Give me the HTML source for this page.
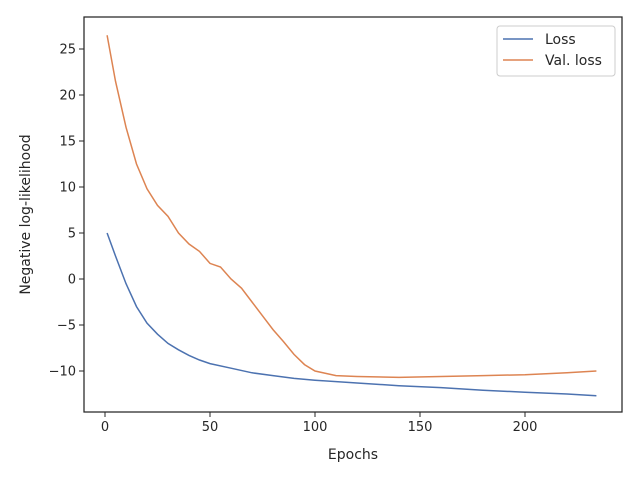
<!DOCTYPE html>
<html><head><meta charset="utf-8"><style>body{margin:0;background:#fff}svg{font-family:"DejaVu Sans","Liberation Sans",sans-serif}</style></head>
<body>
<svg id="chart" width="640" height="480"></svg>
<script>
const lossEpochs=[1,5,10,15,20,25,30,35,40,45,50,60,70,80,90,100,120,140,160,180,200,220,234];
const lossValues=[5,2.5,-0.5,-3,-4.8,-6,-7,-7.7,-8.3,-8.8,-9.2,-9.7,-10.2,-10.5,-10.8,-11,-11.3,-11.6,-11.8,-12.1,-12.3,-12.5,-12.7];
const valEpochs=[1,5,10,15,20,25,30,35,40,45,50,55,60,65,70,75,80,85,90,95,100,110,120,140,160,180,200,220,234];
const valValues=[26.5,21.5,16.5,12.5,9.8,8,6.8,5,3.8,3.0,1.7,1.3,0,-1,-2.5,-4,-5.5,-6.8,-8.2,-9.3,-10,-10.5,-10.6,-10.7,-10.6,-10.5,-10.4,-10.2,-10];
const xTicks=[0,50,100,150,200];
const yTicks=[-10,-5,0,5,10,15,20,25];
const L=84,R=622,T=17,B=412;
const xs=v=>105+v*2.1, ys=v=>279-v*9.2;
const svg=document.getElementById('chart');const NS='http://www.w3.org/2000/svg';
function mk(t,a,p){const e=document.createElementNS(NS,t);for(const k in a)e.setAttribute(k,a[k]);(p||svg).appendChild(e);return e;}
function line(ex,vals,color,name){const d=ex.map((e,i)=>(i?'L':'M')+xs(e).toFixed(1)+','+ys(vals[i]).toFixed(1)).join('');const p=mk('path',{d:d,fill:'none',stroke:color,'stroke-width':1.5});

}
line(lossEpochs,lossValues,'#4c72b0','loss-line');
line(valEpochs,valValues,'#dd8452','val-loss-line');
xTicks.forEach(v=>{const x=xs(v);mk('line',{x1:x,x2:x,y1:B,y2:B+5,stroke:'#262626','stroke-width':1});const t=mk('text',{x:x,y:B+19,'text-anchor':'middle','font-size':13,fill:'#262626'});t.textContent=v;

});
yTicks.forEach(v=>{const y=ys(v);mk('line',{x1:L-5,x2:L,y1:y,y2:y,stroke:'#262626','stroke-width':1});const t=mk('text',{x:L-8,y:y+4.5,'text-anchor':'end','font-size':13,fill:'#262626'});t.textContent=v<0?'\u2212'+(-v):v;

});
const fr=mk('rect',{x:L,y:T,width:R-L,height:B-T,fill:'none',stroke:'#262626','stroke-width':1.25});


const xt=mk('text',{x:(L+R)/2,y:459,'text-anchor':'middle','font-size':14,fill:'#262626'});xt.textContent='Epochs';


const yt=mk('text',{x:30,y:(T+B)/2,'text-anchor':'middle','font-size':14,fill:'#262626',transform:'rotate(-90 30 '+((T+B)/2)+')'});yt.textContent='Negative log-likelihood';


const g=mk('g',{});


mk('rect',{x:497,y:26,width:118,height:50,rx:3,fill:'#fff',stroke:'#ccc','stroke-width':1},g);
[['Loss','#4c72b0',39],['Val. loss','#dd8452',60]].forEach(([n,c,y])=>{mk('line',{x1:503,x2:533,y1:y,y2:y,stroke:c,'stroke-width':1.5},g);const t=mk('text',{x:545,y:y+5,'font-size':14,fill:'#262626'},g);t.textContent=n;

});
</script>
</body></html>
